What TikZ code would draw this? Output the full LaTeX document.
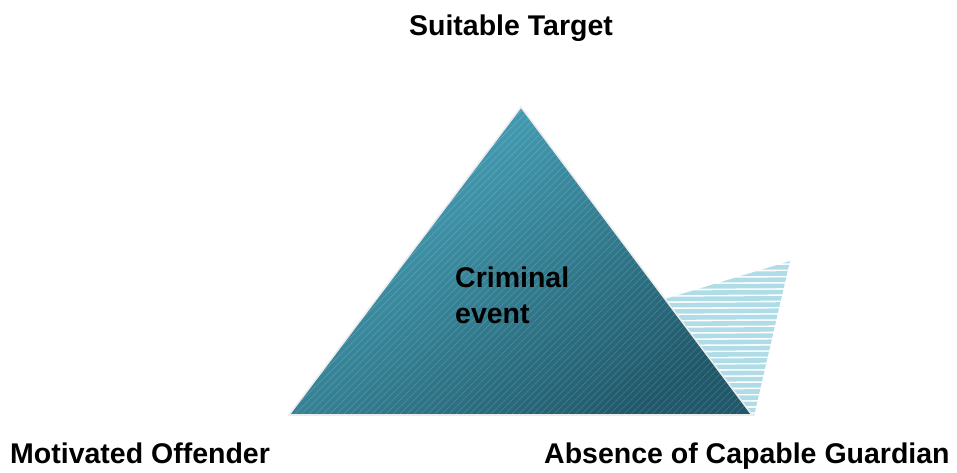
\documentclass[tikz,border=0pt]{standalone}
\usepackage{fontspec}
\setmainfont{Liberation Sans}
\definecolor{tealtop}{HTML}{4AA8BF}
\definecolor{tealbot}{HTML}{20596A}
\definecolor{stripe}{HTML}{B0DCE7}
\definecolor{edgegrey}{HTML}{ECECEC}
\tikzset{
  lbl/.style={inner sep=0pt, font=\fontsize{28.5}{36}\selectfont\bfseries},
  hatchline/.style={white, line width=0.5pt, draw opacity=0.18},
  stripeline/.style={stripe, line width=4.6pt},
}
\begin{document}
\begin{tikzpicture}[x=1pt,y=-1pt]
\useasboundingbox (0,0) rectangle (957,473);
% points
\coordinate (A) at (521,107);
\coordinate (B) at (289,415);
\coordinate (C) at (752,415);
\coordinate (P) at (655,302);
\coordinate (Q) at (790,261);
\coordinate (R) at (754,416);
% back striped triangle
\begin{scope}
  \clip (P) -- (Q) -- (R) -- cycle;
  \foreach \k in {0,...,26} {
    \draw[stripeline] (640,262+6.2*\k) -- (800,261+6.2*\k);
  }
\end{scope}
% main triangle
\shade[shading=axis, top color=tealtop, bottom color=tealbot, shading angle=35] (A) -- (B) -- (C) -- cycle;
\begin{scope}
  \clip (A) -- (B) -- (C) -- cycle;
  \foreach \k in {0,...,110} {
    \draw[hatchline] (280+7*\k-320,420) -- (280+7*\k,100);
  }
\end{scope}
\draw[edgegrey, line width=1.6pt, line join=miter] (A) -- (B) -- (C) -- cycle;
% labels
\node[lbl, anchor=base] (st) at (511,36) {Suitable Target};
\node[lbl, anchor=base west] (mo) at (10,463) {Motivated Offender};
\node[lbl, anchor=base west] (ag) at (544,463) {Absence of Capable Guardian};
\node[lbl, anchor=base west, align=left] (ce) at (455,323) {Criminal\\event};
\end{tikzpicture}
\end{document}
